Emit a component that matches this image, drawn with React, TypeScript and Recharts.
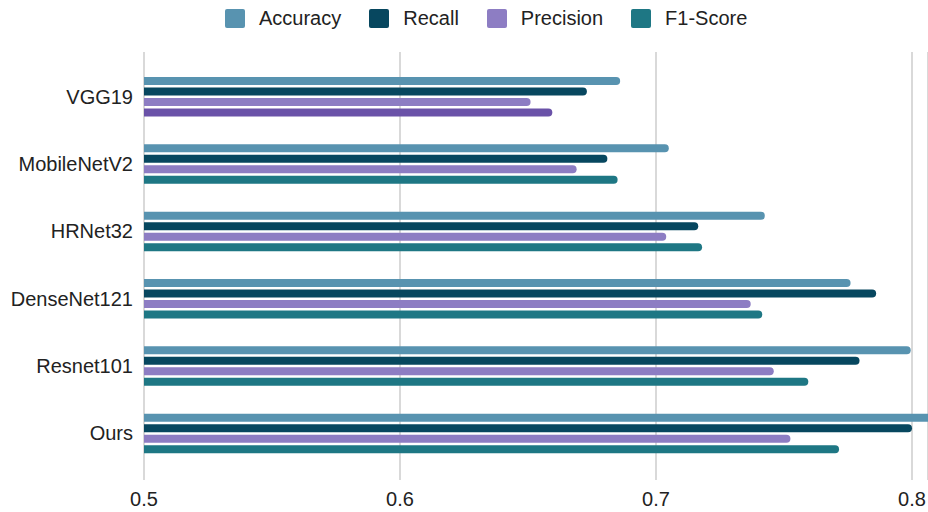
import React from "react";
import { BarChart, Bar, XAxis, YAxis, CartesianGrid, Cell } from "recharts";

const models = ["VGG19", "MobileNetV2", "HRNet32", "DenseNet121", "Resnet101", "Ours"];
const accuracy = [0.686, 0.705, 0.7425, 0.776, 0.7995, 0.812];
const recall = [0.673, 0.681, 0.7165, 0.786, 0.7795, 0.8];
const precision = [0.651, 0.669, 0.704, 0.737, 0.746, 0.7525];
const f1Score = [0.6595, 0.685, 0.718, 0.7415, 0.7595, 0.7715];
const xTicks = [0.5, 0.6, 0.7, 0.8];

const series = [
  { key: "accuracy", name: "Accuracy", color: "#5893b0" },
  { key: "recall", name: "Recall", color: "#07475f" },
  { key: "precision", name: "Precision", color: "#8d7dc3" },
  { key: "f1", name: "F1-Score", color: "#1e7784" },
];
const vggF1Color = "#6a52a8";

const data = models.map((m, i) => ({
  model: m,
  accuracy: accuracy[i],
  recall: recall[i],
  precision: precision[i],
  f1: f1Score[i],
}));

const FONT = "'Liberation Sans', Arial, sans-serif";

function LegendRow() {
  return (
    <div
      style={{
        position: "absolute",
        left: 225,
        top: 6,
        display: "flex",
        alignItems: "center",
        fontFamily: FONT,
        fontSize: 20,
        color: "#222",
        lineHeight: "24px",
      }}
    >
      {series.map((s, i) => (
        <div key={s.key} style={{ display: "flex", alignItems: "center", marginRight: i < series.length - 1 ? 28 : 0 }}>
          <span style={{ width: 20, height: 19, background: s.color, borderRadius: 2, display: "inline-block", marginRight: 14 }} />
          <span>{s.name}</span>
        </div>
      ))}
    </div>
  );
}

export default function App() {
  return (
    <div style={{ position: "absolute", left: 0, top: 0, width: 928, height: 512, background: "#fff" }}>
      <BarChart
        width={928}
        height={512}
        data={data}
        layout="vertical"
        margin={{ top: 52, right: 0, bottom: 0, left: 0 }}
        barSize={8}
        barGap={2.5}
      >
        <CartesianGrid horizontal={false} stroke="#cccccc" strokeWidth={1.5} />
        <XAxis
          type="number"
          domain={[0.5, 0.80625]}
          allowDataOverflow
          ticks={xTicks}
          axisLine={false}
          tickLine={false}
          tickSize={0}
          tickMargin={12}
          height={32}
          tick={{ fill: "#222", fontSize: 20, fontFamily: FONT }}
        />
        <YAxis
          type="category"
          dataKey="model"
          width={144}
          axisLine={false}
          tickLine={false}
          tickSize={0}
          tickMargin={11}
          padding={{ top: 11, bottom: 13 }}
          tick={{ fill: "#222", fontSize: 20, fontFamily: FONT }}
        />
        {series.map((s) => (
          <Bar key={s.key} dataKey={s.key} name={s.name} fill={s.color} radius={[0, 4, 4, 0]} isAnimationActive={false}>
            {s.key === "f1"
              ? data.map((d, i) => <Cell key={i} fill={i === 0 ? vggF1Color : s.color} />)
              : null}
          </Bar>
        ))}
      </BarChart>
      <LegendRow />
    </div>
  );
}
